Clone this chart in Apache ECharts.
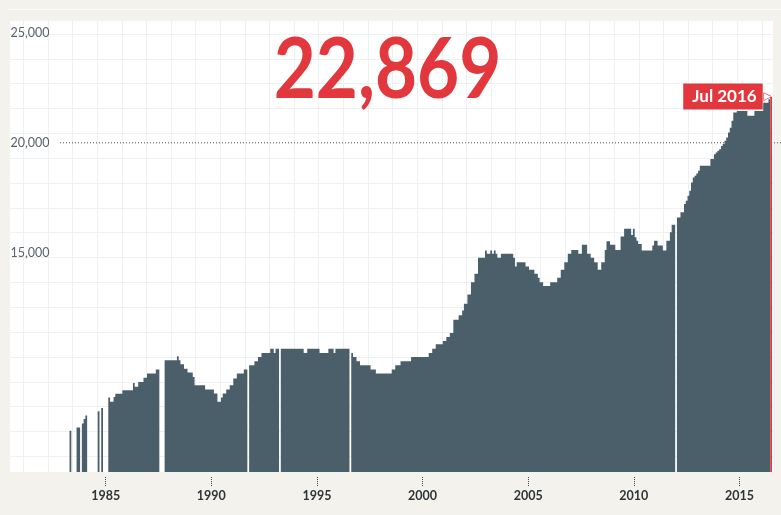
<!DOCTYPE html>
<html><head><meta charset="utf-8">
<script src="https://cdn.jsdelivr.net/npm/echarts@6/dist/echarts.min.js"></script>
<style>html,body{margin:0;padding:0;background:#f4f2ec}#c{width:781px;height:515px}</style>
</head><body><div id="c"></div><script>
// ---- data ----
const startYear = 1983, endYear = 2016, endMonth = 7;
const headline = '22,869';
const lastLabel = 'Jul 2016';
const threshold = 20000;
const tickYears = [1985, 1990, 1995, 2000, 2005, 2010, 2015];
const yLabelValues = [15000, 20000, 25000];
const values = [
  /*1983*/ null,null,null,null,6880,null,null,null,7030,7030,null,7210,
  /*1984*/ 7410,7580,null,null,null,null,null,null,7770,null,7920,null,
  /*1985*/ null,null,8400,8200,8200,8420,8560,8560,8560,8560,8730,8730,
  /*1986*/ 8730,8730,8730,8730,9060,8880,8880,9100,9100,9100,9290,9290,
  /*1987*/ 9490,9490,9490,9490,9490,9670,9670,null,null,null,10090,10090,
  /*1988*/ 10090,10090,10090,10090,10090,10270,10090,9910,9910,9710,9710,9530,
  /*1989*/ 9530,9530,9330,8950,8950,8950,8950,8950,8950,8760,8760,8760,
  /*1990*/ 8760,8760,8580,8580,8200,8200,8400,8580,8580,8760,8760,8950,
  /*1991*/ 8950,9260,9260,9490,9490,9490,9490,9670,9670,null,9860,9860,
  /*1992*/ 9860,10045,10045,10240,10240,10420,10420,10420,10420,10420,10620,10620,
  /*1993*/ 10420,10620,10620,null,10620,10620,10620,10620,10620,10620,10620,10620,
  /*1994*/ 10620,10620,10620,10620,10620,10420,10420,10620,10620,10620,10620,10620,
  /*1995*/ 10620,10620,10420,10420,10420,10420,10420,10620,10620,10620,10420,10620,
  /*1996*/ 10620,10620,10620,10620,10620,10620,10620,null,10420,10240,10240,10045,
  /*1997*/ 10045,9860,9860,9860,9860,9860,9860,9670,9670,9670,9490,9490,
  /*1998*/ 9490,9490,9490,9490,9490,9490,9490,9670,9670,9860,9860,9860,
  /*1999*/ 10045,10045,10045,10045,10045,10045,10240,10240,10240,10240,10240,10240,
  /*2000*/ 10240,10240,10240,10240,10420,10420,10620,10620,10820,10820,10820,10820,
  /*2001*/ 10970,10970,11150,11150,11330,11330,11940,11940,11940,12140,12140,12360,
  /*2002*/ 12670,12670,13090,13090,13650,13650,14030,14030,14760,14760,14760,14760,
  /*2003*/ 15090,14940,14940,15090,14940,15090,14940,14760,14760,14940,14940,14940,
  /*2004*/ 14940,14940,14940,14940,14760,14360,14560,14560,14560,14560,14560,14360,
  /*2005*/ 14360,14210,14210,14210,14030,14030,13850,13650,13650,13470,13470,13470,
  /*2006*/ 13470,13650,13650,13650,13650,13850,13850,14210,14210,14560,14560,14940,
  /*2007*/ 14940,15120,15120,15120,15120,14940,14940,15360,15360,15360,14940,14940,
  /*2008*/ 14760,14760,14560,14560,14210,14210,14560,14560,15120,15510,15510,15360,
  /*2009*/ 15360,15360,15120,15120,15120,15730,15730,16080,16080,16080,16080,15800,
  /*2010*/ 16080,15700,15540,15390,15390,15090,15090,15090,15090,15090,15090,15320,
  /*2011*/ 15540,15540,15320,15320,15320,15090,15090,15540,15540,15920,16270,16270,
  /*2012*/ null,16600,16600,16830,16830,17210,17360,17590,17820,18190,18420,18500,
  /*2013*/ 18600,18730,18950,18950,18950,18950,18950,18950,19260,19260,19480,19560,
  /*2014*/ 19640,19710,19860,19940,20090,20240,20470,20690,21000,21380,21380,21450,
  /*2015*/ 21450,21450,21450,21450,21450,21230,21230,21230,21230,21450,21450,21450,
  /*2016*/ 21450,21450,21830,21830,21830,21980,22090
];

// ---- categories (months) ----
const categories = [];
for (let y = startYear; y <= endYear; y++) {
  for (let m = 1; m <= 12; m++) {
    if (y === endYear && m > endMonth) break;
    categories.push(y + '-' + String(m).padStart(2, '0'));
  }
}

const RED = '#e1373d', SLATE = '#4b5f6b', GRIDC = '#edf1f2';
const isTick = (i) => {
  const c = categories[i];
  return c.slice(5) === '01' && tickYears.indexOf(+c.slice(0, 4)) >= 0;
};
const fmt = (v) => String(v).replace(/\B(?=(\d{3})+(?!\d))/g, ',');
const lastIdx = values.length - 1;

// main bars (all but the latest month) and the highlighted latest month
const mainData = values.map((v, i) => (i === lastIdx ? null : v));
const lastData = values.map((v, i) => {
  if (i !== lastIdx) return null;
  return {
    value: v,
    label: {
      show: true,
      position: [-87, -9],
      formatter: '{a|' + lastLabel + '}{b|▶}',
      rich: {
        a: { color: '#fff', backgroundColor: RED, fontFamily: 'Lato', fontWeight: 'bold',
             fontSize: 17, lineHeight: 17, padding: [5, 6, 4, 9] },
        b: { color: '#fff', fontSize: 9, textBorderColor: RED, textBorderWidth: 1.2,
             padding: [0, 0, 0, 1] }
      }
    }
  };
});

const YMIN = 5000, YMAX = 25550;
const chart = echarts.init(document.getElementById('c'), null, { renderer: 'canvas' });
chart.setOption({
  animation: false,
  backgroundColor: '#f4f2ec',
  graphic: [{
    type: 'line', shape: { x1: 8, y1: 9.5, x2: 781, y2: 9.5 },
    style: { stroke: '#fbfaf7', lineWidth: 1 }, silent: true, z: -1
  }, {
    type: 'text', x: 387.5, y: 29, scaleX: 0.865, z: 10, silent: true,
    style: { text: headline, fill: RED, textAlign: 'center', textVerticalAlign: 'top',
             font: 'bold 84px Lato, sans-serif' }
  }],
  grid: [
    { left: 10, right: 8, top: 21, bottom: 43, show: true, backgroundColor: '#fff', borderWidth: 0 },
    { left: 62.5, right: 9, top: 21, bottom: 43 },
    { left: 60, right: 0, top: 21, bottom: 43 },
    { left: 23.3, right: 19.1, top: 21, bottom: 43 },
    { left: 10, right: 8, top: 34, bottom: 58.7 }
  ],
  xAxis: [
    { gridIndex: 0, type: 'value', show: false },
    {
      gridIndex: 1, type: 'category', data: categories, offset: 5,
      axisLine: { show: false },
      axisTick: { show: true, alignWithLabel: true, interval: isTick, length: 10,
                  lineStyle: { type: 'dotted', color: '#3d4348', width: 1 } },
      axisLabel: { interval: isTick, margin: 12, formatter: (v) => v.slice(0, 4),
                   color: '#2f3438', fontFamily: 'Lato', fontWeight: 'bold', fontSize: 12.5 },
      splitLine: { show: false }
    },
    { gridIndex: 2, type: 'value', min: 0, max: 1, show: false },
    { gridIndex: 3, type: 'value', min: 0, max: 30, interval: 1,
      axisLine: { show: false }, axisTick: { show: false }, axisLabel: { show: false },
      splitLine: { show: true, lineStyle: { color: GRIDC, width: 1 } } },
    { gridIndex: 4, type: 'value', show: false }
  ],
  yAxis: [
    { gridIndex: 0, type: 'value', show: false },
    {
      gridIndex: 1, type: 'value', min: YMIN, max: YMAX, interval: 5000,
      axisLine: { show: false }, axisTick: { show: false }, splitLine: { show: false },
      axisLabel: { margin: 52, align: 'left', color: '#59626b', fontFamily: 'Lato', fontSize: 12.5,
                   formatter: (v) => yLabelValues.indexOf(v) >= 0 ? fmt(v) : '' }
    },
    { gridIndex: 2, type: 'value', min: YMIN, max: YMAX, show: false },
    { gridIndex: 3, type: 'value', show: false },
    { gridIndex: 4, type: 'value', inverse: true, min: 0, max: 17, interval: 1,
      axisLine: { show: false }, axisTick: { show: false }, axisLabel: { show: false },
      splitLine: { show: true, lineStyle: { color: GRIDC, width: 1 } } }
  ],
  series: [
    {
      type: 'line', xAxisIndex: 2, yAxisIndex: 2, z: 1,
      data: [[0, threshold], [1, threshold]], showSymbol: false, silent: true,
      lineStyle: { type: [1, 2], color: '#4a4f53', width: 1 }
    },
    {
      type: 'bar', xAxisIndex: 1, yAxisIndex: 1, z: 2,
      data: mainData, barCategoryGap: '0%', barGap: '-100%',
      large: true, largeThreshold: 50,
      itemStyle: { color: SLATE },
      silent: true
    },
    {
      type: 'bar', xAxisIndex: 1, yAxisIndex: 1, z: 3,
      data: lastData, barCategoryGap: '0%', barGap: '-100%',
      itemStyle: { color: RED },
      silent: true
    }
  ]
});
</script></body></html>
